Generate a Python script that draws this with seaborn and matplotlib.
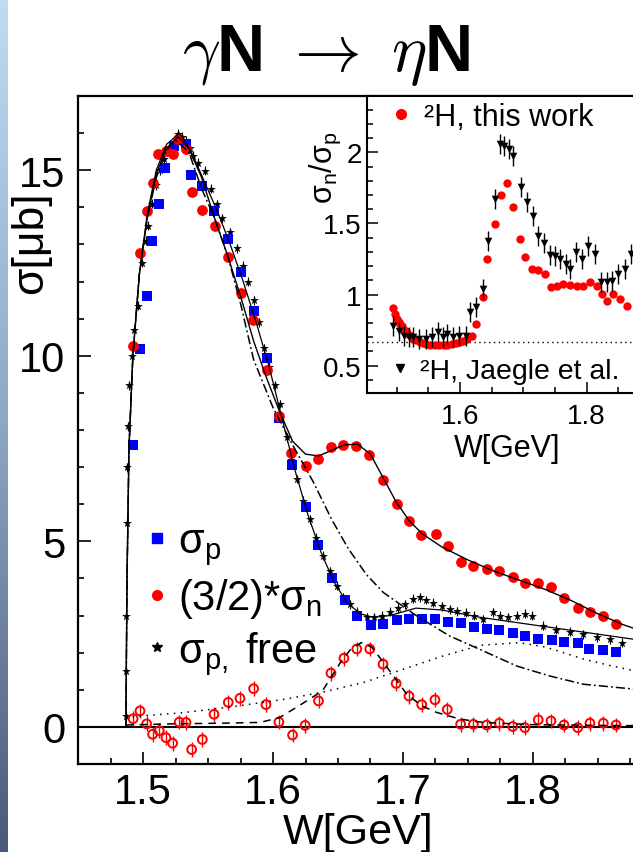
import numpy as np
import matplotlib
matplotlib.use("Agg")
import matplotlib.pyplot as plt
import seaborn as sns
from matplotlib.lines import Line2D
from matplotlib.ticker import MultipleLocator, FixedLocator, FuncFormatter
from matplotlib.colors import LinearSegmentedColormap

# ---------------- data ----------------
# sigma_p (quasi-free proton), blue squares
W_p = [1.4923, 1.4975, 1.5026, 1.5065, 1.512, 1.517, 1.524, 1.533, 1.537, 1.545,
       1.5547, 1.565, 1.575, 1.585, 1.595, 1.6048, 1.6146, 1.6253, 1.6348, 1.6456,
       1.6554, 1.6649, 1.6752, 1.6844, 1.6952, 1.7047, 1.7145, 1.7247, 1.735, 1.7445,
       1.7548, 1.7646, 1.7743, 1.7846, 1.794, 1.8043, 1.8146, 1.8243, 1.8347, 1.8436,
       1.854, 1.864]
sig_p = [7.59, 10.18, 11.62, 13.1, 14.1, 15.06, 15.66, 15.7, 14.87, 14.57,
         13.9, 13.16, 12.26, 11.2, 9.93, 8.31, 7.05, 5.93, 4.91, 4.0,
         3.41, 2.98, 2.74, 2.77, 2.88, 2.92, 2.92, 2.92, 2.83, 2.79,
         2.68, 2.63, 2.61, 2.54, 2.45, 2.38, 2.35, 2.29, 2.27, 2.09,
         2.07, 2.02]

# (3/2)*sigma_n, red filled circles
W_n = [1.4923, 1.4975, 1.5026, 1.5072, 1.5116, 1.5175, 1.5226, 1.527, 1.5329, 1.5373,
       1.545, 1.5552, 1.565, 1.575, 1.5845, 1.595, 1.6048, 1.6136, 1.625, 1.6344,
       1.6444, 1.6541, 1.6639, 1.6742, 1.6844, 1.6952, 1.7047, 1.7139, 1.7253, 1.7345,
       1.7448, 1.7543, 1.7646, 1.7743, 1.7846, 1.794, 1.8043, 1.8141, 1.8241, 1.8347,
       1.8441, 1.8544, 1.8642]
sig_n = [10.27, 12.77, 13.91, 14.65, 15.44, 15.53, 15.44, 15.84, 15.57, 14.4,
         13.94, 13.5, 12.65, 11.69, 10.97, 9.61, 8.38, 7.38, 7.02, 7.22,
         7.55, 7.6, 7.57, 7.32, 6.66, 6.0, 5.54, 5.17, 5.19, 4.88,
         4.43, 4.34, 4.25, 4.19, 4.03, 3.87, 3.87, 3.76, 3.46, 3.2,
         3.1, 2.99, 2.77]

# sigma_p free, black stars
W_f = [1.4866, 1.4868, 1.487, 1.4872, 1.4875, 1.488, 1.489, 1.491, 1.493, 1.4961,
       1.4988, 1.502, 1.5039, 1.507, 1.51, 1.513, 1.516, 1.519, 1.522, 1.525,
       1.527, 1.53, 1.533, 1.536, 1.5385, 1.542, 1.5475, 1.552, 1.5565, 1.561,
       1.5668, 1.572, 1.577, 1.581, 1.585, 1.589, 1.593, 1.597, 1.6015, 1.605,
       1.6105, 1.614, 1.6182, 1.623, 1.6284, 1.633, 1.6387, 1.644, 1.649, 1.654,
       1.6592, 1.665, 1.672, 1.678, 1.684, 1.69, 1.696, 1.702, 1.708, 1.7132,
       1.718, 1.7234, 1.73, 1.7363, 1.742, 1.749, 1.755, 1.762, 1.7694, 1.775,
       1.781, 1.7877, 1.794, 1.7992, 1.808, 1.818, 1.8287, 1.839, 1.8493, 1.8595,
       1.8686]
sig_f = [0.3, 1.5, 3.0, 5.5, 7.0, 8.1, 9.2, 10.0, 10.7, 11.35,
         12.5, 13.1, 13.5, 14.1, 14.6, 15.0, 15.3, 15.5, 15.6, 15.75,
         15.98, 15.9, 15.8, 15.6, 15.39, 15.2, 14.99, 14.5, 14.09, 13.7,
         13.33, 12.9, 12.43, 12.0, 11.5, 10.9, 10.2, 9.7, 9.2, 8.7,
         7.8, 7.2, 6.68, 6.1, 5.6, 5.1, 4.61, 4.2, 3.8, 3.5,
         3.3, 3.1, 2.95, 2.95, 3.0, 3.1, 3.2, 3.3, 3.45, 3.49,
         3.42, 3.35, 3.25, 3.17, 3.12, 3.08, 3.0, 2.9, 3.09, 3.0,
         2.95, 2.99, 3.05, 2.99, 2.72, 2.62, 2.56, 2.5, 2.41, 2.36,
         2.27]

# difference, red open circles
W_d = [1.4922, 1.4975, 1.5026, 1.5072, 1.5123, 1.5175, 1.5226, 1.5277, 1.5329, 1.5373,
       1.5455, 1.5545, 1.5655, 1.5745, 1.585, 1.5945, 1.6045, 1.615, 1.6247, 1.635,
       1.6446, 1.6546, 1.6645, 1.6745, 1.6847, 1.6948, 1.7047, 1.7145, 1.7247, 1.7342,
       1.7445, 1.7543, 1.7646, 1.7743, 1.7846, 1.794, 1.8043, 1.8141, 1.8241, 1.8347,
       1.8441, 1.8544, 1.8642]
sig_d = [0.22, 0.43, 0.08, -0.2, -0.1, -0.29, -0.44, 0.13, 0.12, -0.61,
         -0.34, 0.34, 0.66, 0.77, 1.03, 0.6, 0.13, -0.22, 0.04, 0.7,
         1.45, 1.85, 2.1, 2.1, 1.69, 1.17, 0.83, 0.6, 0.73, 0.47,
         0.07, 0.07, 0.05, 0.1, 0.01, -0.02, 0.19, 0.16, 0.05, -0.02,
         0.1, 0.1, 0.05]

# model curves
cW_n = [1.4866, 1.4875, 1.489, 1.492, 1.497, 1.503, 1.51, 1.518, 1.527, 1.535,
        1.545, 1.555, 1.565, 1.575, 1.585, 1.595, 1.605, 1.615, 1.625, 1.635,
        1.645, 1.655, 1.665, 1.675, 1.685, 1.695, 1.705, 1.715, 1.73, 1.75,
        1.77, 1.79, 1.81, 1.83, 1.85, 1.87, 1.9]
cS_n = [0.0, 4.0, 7.5, 10.0, 12.2, 13.7, 14.9, 15.6, 15.9, 15.6,
        14.8, 13.7, 12.7, 11.6, 10.4, 9.4, 8.5, 7.7, 7.35, 7.3,
        7.45, 7.6, 7.62, 7.35, 6.7, 6.05, 5.55, 5.2, 4.85, 4.5,
        4.2, 3.95, 3.7, 3.4, 3.05, 2.75, 2.4]
cW_pf = [1.4866, 1.4875, 1.489, 1.492, 1.497, 1.503, 1.51, 1.518, 1.528, 1.537,
         1.547, 1.557, 1.567, 1.577, 1.587, 1.597, 1.607, 1.617, 1.627, 1.637,
         1.647, 1.657, 1.667, 1.677, 1.69, 1.71, 1.73, 1.76, 1.79, 1.82,
         1.85, 1.88, 1.9]
cS_pf = [0.0, 4.0, 7.5, 10.0, 12.2, 13.8, 15.0, 15.7, 16.0, 15.5,
         14.7, 13.9, 13.0, 12.0, 10.9, 9.7, 8.3, 6.9, 5.7, 4.7,
         3.9, 3.35, 3.05, 2.95, 3.0, 3.2, 3.15, 2.95, 2.8, 2.65,
         2.5, 2.35, 2.25]
cW_dd = [1.4866, 1.4875, 1.489, 1.492, 1.497, 1.503, 1.51, 1.517, 1.525, 1.535,
         1.545, 1.555, 1.565, 1.575, 1.585, 1.6, 1.615, 1.631, 1.645, 1.658,
         1.672, 1.685, 1.7106, 1.736, 1.7617, 1.7877, 1.8133, 1.839, 1.8775, 1.9]
cS_dd = [0.0, 4.0, 7.5, 10.0, 12.2, 13.7, 14.8, 15.5, 15.8, 15.5,
         14.5, 13.7, 12.7, 11.4, 9.9, 8.6, 7.6, 6.6, 5.6, 4.8,
         4.1, 3.62, 2.99, 2.45, 2.05, 1.64, 1.37, 1.15, 1.02, 0.95]
cW_dot = [1.4866, 1.50, 1.53, 1.57, 1.61, 1.64, 1.67, 1.70, 1.73, 1.76,
          1.79, 1.81, 1.84, 1.86, 1.88, 1.90]
cS_dot = [0.25, 0.3, 0.38, 0.55, 0.75, 0.95, 1.2, 1.55, 1.9, 2.2,
          2.27, 2.15, 1.82, 1.65, 1.5, 1.4]
cW_da = [1.4866, 1.52, 1.56, 1.59, 1.605, 1.62, 1.638, 1.652, 1.66, 1.668,
         1.676, 1.685, 1.703, 1.7145, 1.726, 1.744, 1.762, 1.8, 1.85, 1.9]
cS_da = [0.05, 0.08, 0.1, 0.12, 0.25, 0.57, 0.97, 1.74, 2.1, 2.27,
         2.15, 1.74, 0.88, 0.57, 0.39, 0.21, 0.12, 0.06, 0.04, 0.03]

# inset: sigma_n / sigma_p
W_r = [1.4937, 1.497, 1.5, 1.503, 1.505, 1.508, 1.5105, 1.514, 1.518, 1.522,
       1.526, 1.531, 1.537, 1.542, 1.547, 1.553, 1.5605, 1.567, 1.574, 1.58,
       1.587, 1.594, 1.6, 1.6055, 1.6105, 1.6185, 1.6253, 1.6358, 1.643, 1.6553,
       1.6643, 1.6747, 1.6842, 1.6948, 1.7027, 1.7133, 1.7237, 1.7343, 1.7433, 1.7537,
       1.7632, 1.7738, 1.7843, 1.7948, 1.8054, 1.816, 1.8239, 1.8327, 1.8422, 1.8528,
       1.8633]
r_r = [0.903, 0.86, 0.828, 0.81, 0.79, 0.775, 0.758, 0.74, 0.72, 0.705,
       0.69, 0.678, 0.668, 0.66, 0.652, 0.648, 0.645, 0.643, 0.645, 0.648,
       0.652, 0.66, 0.668, 0.676, 0.687, 0.71, 0.79, 0.98, 1.25, 1.496,
       1.70, 1.782, 1.613, 1.39, 1.262, 1.18, 1.172, 1.144, 1.055, 1.06,
       1.074, 1.069, 1.062, 1.062, 1.086, 1.062, 1.004, 0.956, 1.004, 0.968,
       0.921]
W_j = [1.4947, 1.503, 1.512, 1.52, 1.526, 1.535, 1.547, 1.556, 1.5658, 1.573,
       1.58, 1.589, 1.598, 1.6095, 1.6158, 1.6253, 1.6358, 1.6437, 1.6553, 1.6632,
       1.67, 1.6779, 1.6842, 1.6959, 1.7063, 1.7148, 1.7237, 1.7332, 1.7422, 1.75,
       1.758, 1.7674, 1.7738, 1.7833, 1.7922, 1.8027, 1.8133, 1.8222, 1.8317, 1.8406,
       1.8501, 1.8607, 1.8697]
r_j = [0.78, 0.74, 0.71, 0.70, 0.70, 0.69, 0.687, 0.70, 0.738, 0.70,
       0.722, 0.70, 0.71, 0.71, 0.875, 0.91, 1.039, 1.378, 1.672, 2.058,
       2.042, 2.023, 1.976, 1.754, 1.648, 1.55, 1.414, 1.36, 1.278, 1.273,
       1.25, 1.215, 1.18, 1.297, 1.25, 1.343, 1.285, 1.086, 1.09, 1.097,
       1.144, 1.18, 1.285]
ratio_ref = 2.0 / 3.0

main_xticks = [1.5, 1.6, 1.7, 1.8]
main_labels = [r'$\mathrm{\sigma_p}$', r'(3/2)*$\mathrm{\sigma_n}$', r'$\mathrm{\sigma_{p,}}$ free']
inset_labels = ['²H, this work', '²H, Jaegle et al.']

# ---------------- style ----------------
sns.set_theme(style="ticks")
plt.rcParams['font.family'] = ['Liberation Sans', 'DejaVu Sans']
plt.rcParams['mathtext.fontset'] = 'custom'
plt.rcParams['mathtext.rm'] = 'Liberation Sans'
plt.rcParams['mathtext.sf'] = 'Liberation Sans'
plt.rcParams['mathtext.it'] = 'Liberation Serif:italic'
plt.rcParams['mathtext.bf'] = 'Liberation Sans:bold'
plt.rcParams['text.color'] = 'black'
plt.rcParams['axes.edgecolor'] = 'black'
plt.rcParams['xtick.color'] = 'black'
plt.rcParams['ytick.color'] = 'black'

BLUE = '#0000ff'
RED = '#ff0000'
FW, FH = 633, 853
fig = plt.figure(figsize=(FW / 100, FH / 100), dpi=100)
fig.patch.set_facecolor('white')


def box(x0, y0, x1, y1):
    return [x0 / FW, 1 - y1 / FH, (x1 - x0) / FW, (y1 - y0) / FH]


# left slide band
band = fig.add_axes([0, 0, 8 / FW, 1])
cmap = LinearSegmentedColormap.from_list('band', ['#bfdcf3', '#8ea6c6', '#4b5979'])
band.imshow(np.linspace(0, 1, 256)[:, None], aspect='auto', cmap=cmap,
            extent=[0, 1, 0, 1], origin='upper')
band.axis('off')

# ---------------- main axes ----------------
ax = fig.add_axes(box(77.7, 97, 662.5, 765))
ax.set_facecolor('white')
ax.set_xlim(1.4495, 1.9)
ax.set_ylim(-1, 17)
ax.axhline(0, color='black', lw=1.5, zorder=1)

ax.errorbar(W_f, sig_f, yerr=0.12, fmt='none', ecolor='black', elinewidth=0.8, zorder=2)
sns.scatterplot(x=W_f, y=sig_f, marker='*', color='black', s=45, linewidth=0, ax=ax, zorder=2)
sns.scatterplot(x=W_p, y=sig_p, marker='s', color=BLUE, s=52, linewidth=0, ax=ax, zorder=3)
sns.scatterplot(x=W_n, y=sig_n, marker='o', color=RED, s=60, linewidth=0, ax=ax, zorder=3)
ax.errorbar(W_d, sig_d, yerr=0.2, fmt='none', ecolor=RED, elinewidth=1.0, zorder=3)
sns.scatterplot(x=W_d, y=sig_d, marker='o', facecolor='none', edgecolor=RED, s=40,
                linewidth=1.4, ax=ax, zorder=3)

curve_kw = dict(ax=ax, color='black', sort=False, estimator=None, zorder=4)
sns.lineplot(x=cW_n, y=cS_n, lw=1.0, **curve_kw)
sns.lineplot(x=cW_pf, y=cS_pf, lw=0.9, **curve_kw)
sns.lineplot(x=cW_dd, y=cS_dd, lw=1.1, linestyle=(0, (6, 2, 1.2, 2)), **curve_kw)
sns.lineplot(x=cW_dot, y=cS_dot, lw=1.1, linestyle=(0, (1, 3.5)), **curve_kw)
sns.lineplot(x=cW_da, y=cS_da, lw=1.1, linestyle=(0, (5, 4)), **curve_kw)

ax.xaxis.set_major_locator(FixedLocator(main_xticks))
ax.xaxis.set_minor_locator(MultipleLocator(0.025))
ax.yaxis.set_major_locator(MultipleLocator(5))
ax.yaxis.set_minor_locator(MultipleLocator(1))
ax.tick_params(which='both', direction='in', top=False, right=False, width=1.2)
ax.tick_params(which='major', length=9, labelsize=30)
ax.tick_params(which='minor', length=4.5)
ax.tick_params(axis='y', pad=9)
ax.tick_params(axis='x', pad=6)
for sp in ax.spines.values():
    sp.set_linewidth(1.6)
    sp.set_color('black')
ax.set_xlabel('')
ax.set_ylabel('')

handles = [Line2D([], [], marker='s', color=BLUE, ls='none', ms=7),
           Line2D([], [], marker='o', color=RED, ls='none', ms=7),
           Line2D([], [], marker='*', color='black', ls='none', ms=7)]
leg = ax.legend(handles, main_labels, loc='center left', bbox_to_anchor=(0.118, 0.247),
                frameon=False, fontsize=30, handlelength=0.5, handletextpad=0.25,
                borderpad=0, borderaxespad=0, labelspacing=0.22)

# ---------------- inset ----------------
axi = fig.add_axes(box(367.3, 97, 649.9, 394))
axi.set_zorder(5)
axi.set_facecolor('white')
axi.set_xlim(1.4536, 1.9)
axi.set_ylim(0.3073, 2.396)
axi.axhline(ratio_ref, color='black', lw=1.0, linestyle=(0, (1, 2.5)), zorder=1)
sns.scatterplot(x=W_r, y=r_r, marker='o', color=RED, s=36, linewidth=0, ax=axi, zorder=2)
axi.errorbar(W_j, r_j, yerr=0.07, fmt='none', ecolor='black', elinewidth=1.0, zorder=3)
sns.scatterplot(x=W_j, y=r_j, marker='v', color='black', s=30, linewidth=0, ax=axi, zorder=3)

axi.xaxis.set_major_locator(MultipleLocator(0.2))
axi.xaxis.set_minor_locator(MultipleLocator(0.05))
axi.yaxis.set_major_locator(MultipleLocator(0.5))
axi.yaxis.set_minor_locator(MultipleLocator(0.1))
axi.yaxis.set_major_formatter(FuncFormatter(lambda v, p: f'{v:g}'))
axi.tick_params(which='both', direction='in', top=False, right=False, width=1.1)
axi.tick_params(which='major', length=8, labelsize=20)
axi.tick_params(which='minor', length=4.5)
axi.tick_params(axis='y', pad=4)
axi.tick_params(axis='x', pad=7)
for sp in axi.spines.values():
    sp.set_linewidth(1.5)
    sp.set_color('black')
axi.set_xlabel('')
axi.set_ylabel('')

l1 = axi.legend([Line2D([], [], marker='o', color=RED, ls='none', ms=7)], [inset_labels[0]],
                loc='center left', bbox_to_anchor=(0.075, 0.93), frameon=False, fontsize=22,
                handlelength=0.8, handletextpad=0.35, borderpad=0, borderaxespad=0)
axi.add_artist(l1)
axi.legend([Line2D([], [], marker='v', color='black', ls='none', ms=6)], [inset_labels[1]],
           loc='center left', bbox_to_anchor=(0.075, 0.074), frameon=False, fontsize=20.5,
           handlelength=0.8, handletextpad=0.3, borderpad=0, borderaxespad=0)

# ---------------- texts ----------------
fig.text(326 / FW, 1 - 71 / FH, r'$\gamma$N $\rightarrow$ $\eta$N', math_fontfamily='cm',
         fontsize=48, fontweight='bold', ha='center', va='baseline')
fig.text(358 / FW, 1 - 844 / FH, 'W[GeV]', fontsize=31, ha='center', va='baseline')
fig.text(31 / FW, 1 - 243 / FH, 'σ[μb]', fontsize=32, rotation=90, ha='center', va='center')
fig.text(507 / FW, 1 - 449 / FH, 'W[GeV]', fontsize=22, ha='center', va='center', zorder=10)
fig.text(325 / FW, 1 - 168 / FH, r'$\mathrm{\sigma_n/\sigma_p}$', fontsize=22, rotation=90,
         ha='center', va='center', zorder=10)

fig.savefig('out.png', dpi=100, facecolor='white')
